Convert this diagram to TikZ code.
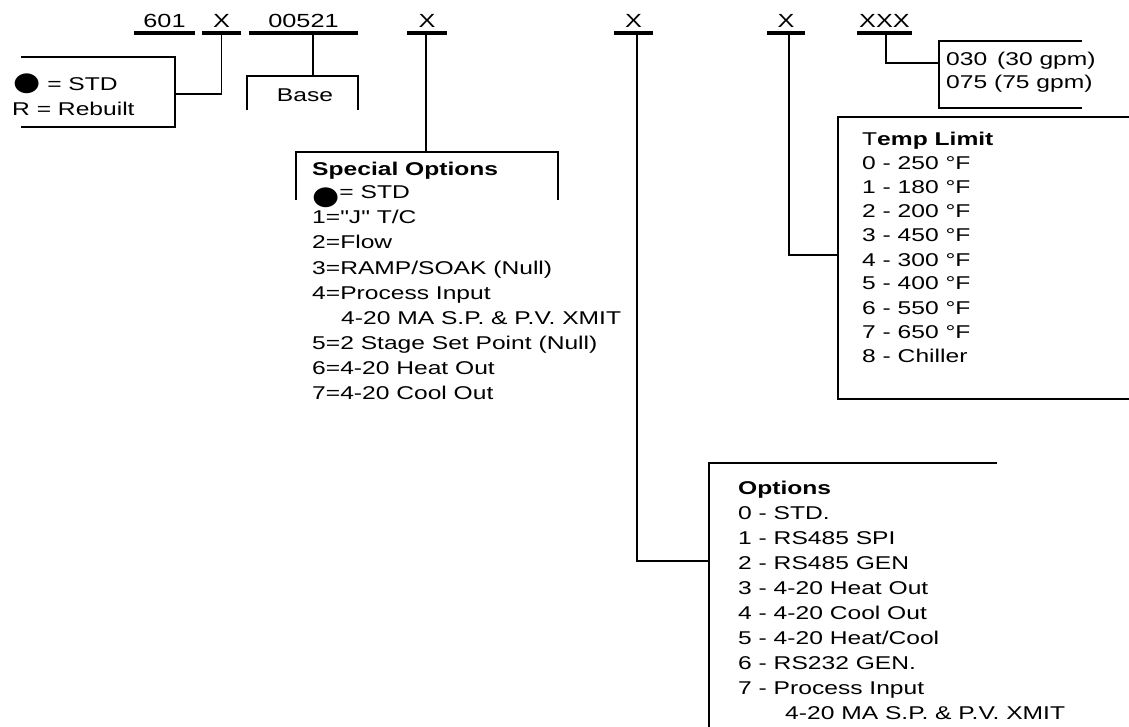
\documentclass[tikz,border=0pt]{standalone}
\usepackage{fontspec}
\setmainfont{Liberation Sans}[FakeStretch=1.33,Ligatures=TeXOff]
\newfontfamily\dotfont{DejaVu Sans}[FakeStretch=1.2]
\newcommand\stddot{{\dotfont\fontsize{26}{26}\selectfont ●}}
\tikzset{
  field/.style={anchor=south,inner xsep=0pt,inner ysep=5pt,text depth=0pt,minimum width=#1,font=\fontsize{19}{20}\selectfont},
  bar/.style={line width=3.2pt},
  wire/.style={line width=1.5pt},
  item/.style={anchor=base west,inner sep=0pt,font=\fontsize{18.5}{20}\selectfont},
  head/.style={item,font=\fontsize{18.5}{20}\selectfont\bfseries},
}
\begin{document}
\begin{tikzpicture}[x=1pt,y=-1pt]
\useasboundingbox (0,0) rectangle (1129,727);
% part number
\node[field=61] (f601) at (164.5,33) {601};
\node[field=38] (fR) at (221.5,33) {X};
\node[field=109] (fBase) at (303.5,33) {00521};
\node[field=39] (fSpec) at (427,33) {X};
\node[field=39] (fOpt) at (633.5,33) {X};
\node[field=38] (fTemp) at (786,33) {X};
\node[field=55] (fFlow) at (884.5,33) {XXX};
\foreach \f in {f601,fR,fBase,fSpec,fOpt,fTemp,fFlow}{\draw[bar] (\f.south west)--(\f.south east);}
% rebuilt
\draw[wire] (21,57) -| (175,127) -- (21,127);
\coordinate (rbJoin) at (175,94);
\draw[wire] (fR.south) |- (rbJoin);
\node[item] (rb0) at (13,91) {\stddot\ = STD};
\node[item] (rb1) at (12,116) {R = Rebuilt};
% base
\coordinate (bsTop) at (313,76);
\draw[wire] (fBase.south -| bsTop) -- (bsTop);
\draw[wire] (247,110) |- (358,76) -- (358,110);
\node[item,anchor=base] (bs) at (305,102) {Base};
% special options
\coordinate (spTop) at (426,152);
\draw[wire] (fSpec.south -| spTop) -- (spTop);
\draw[wire] (296,200) |- (558,152) -- (558,200);
\node[head] (spHead) at (312,176) {Special Options};
\foreach \txt [count=\i from 0] in {{\raisebox{-6pt}{\stddot}= STD},{1="J" T/C},{2=Flow},{3=RAMP/SOAK (Null)},{4=Process Input},{\hspace*{29pt}4-20 MA S.P. \& P.V. XMIT},{5=2 Stage Set Point (Null)},{6=4-20 Heat Out},{7=4-20 Cool Out}}
  \node[item] (sp\i) at (312,199+25*\i) {\txt};
% options
\coordinate (opBend) at (637,561);
\coordinate (opJoin) at (709,561);
\draw[wire] (fOpt.south -| opBend) -- (opBend) -- (opJoin);
\draw[wire] (997,463) -| (709,727);
\node[head] (opHead) at (738,494) {Options};
\foreach \txt [count=\i from 0] in {{0 - STD.},{1 - RS485 SPI},{2 - RS485 GEN},{3 - 4-20 Heat Out},{4 - 4-20 Cool Out},{5 - 4-20 Heat/Cool},{6 - RS232 GEN.},{7 - Process Input},{\hspace*{47pt}4-20 MA S.P. \& P.V. XMIT}}
  \node[item] (op\i) at (738,519+25*\i) {\txt};
% temp limit
\coordinate (tlBend) at (789,255);
\coordinate (tlJoin) at (838,255);
\draw[wire] (fTemp.south -| tlBend) -- (tlBend) -- (tlJoin);
\draw[wire] (1129,117) -| (838,399) -- (1129,399);
\node[item] (tlHead) at (862,146) {T{\bfseries emp Limit}};
\foreach \t [count=\i from 0] in {250,180,200,450,300,400,550,650}
  \node[item] (tl\i) at (862,170+24*\i) {\i\ - \t\ °F};
\node[item] (tl8) at (862,362) {8 - Chiller};
% flow
\coordinate (flBend) at (886,63);
\coordinate (flJoin) at (939,63);
\draw[wire] (fFlow.south -| flBend) -- (flBend) -- (flJoin);
\draw[wire] (1082,41) -| (939,108) -- (1082,108);
\node[item] (fl0) at (946,66) {030\, (30 gpm)};
\node[item] (fl1) at (946,89) {075 (75 gpm)};
\end{tikzpicture}
\end{document}
